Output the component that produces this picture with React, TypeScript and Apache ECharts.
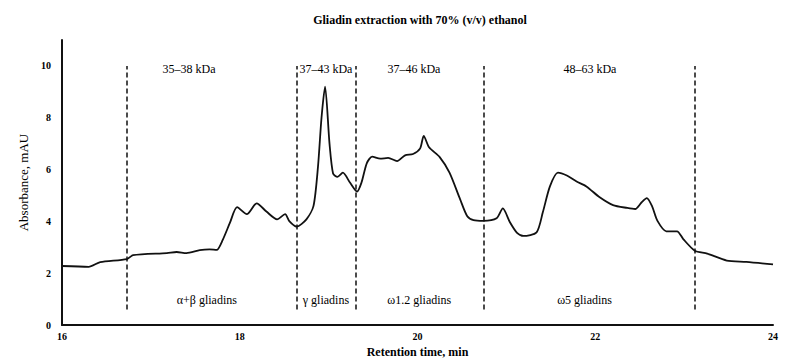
import React, { useEffect, useRef } from "react";
import * as echarts from "echarts";

const retentionTimes = [16, 16.3, 16.43, 16.73, 16.8, 17.18, 17.29, 17.4, 17.55, 17.66, 17.74, 17.81, 17.89, 17.97, 18.08, 18.19, 18.3, 18.42, 18.51, 18.56, 18.64, 18.75, 18.83, 18.88, 18.92, 18.96, 19.01, 19.05, 19.1, 19.16, 19.24, 19.32, 19.37, 19.43, 19.49, 19.58, 19.67, 19.77, 19.86, 19.95, 20.03, 20.07, 20.13, 20.25, 20.36, 20.48, 20.56, 20.63, 20.74, 20.89, 20.96, 21.04, 21.12, 21.19, 21.34, 21.41, 21.49, 21.58, 21.68, 21.79, 21.9, 22.05, 22.2, 22.36, 22.45, 22.52, 22.58, 22.64, 22.7, 22.8, 22.92, 22.99, 23.12, 23.26, 23.48, 23.7, 24];
const absorbance = [2.28, 2.25, 2.43, 2.55, 2.7, 2.78, 2.82, 2.78, 2.89, 2.92, 2.9, 3.3, 3.95, 4.55, 4.28, 4.7, 4.38, 4.08, 4.28, 4.0, 3.8, 4.08, 4.6, 6.1, 8.0, 9.2, 7.0, 5.85, 5.72, 5.88, 5.5, 5.15, 5.5, 6.25, 6.5, 6.42, 6.45, 6.33, 6.55, 6.6, 6.82, 7.3, 6.86, 6.48, 5.88, 4.85, 4.2, 4.05, 4.02, 4.12, 4.5, 3.97, 3.56, 3.44, 3.58, 4.35, 5.35, 5.88, 5.77, 5.54, 5.35, 4.93, 4.63, 4.52, 4.48, 4.73, 4.9, 4.58, 4.02, 3.62, 3.62, 3.32, 2.87, 2.76, 2.49, 2.44, 2.34];

const dividerTimes = [16.73, 18.64, 19.3, 20.75, 23.12];
const dividerBottom = 0.6;
const dividerTop = 10;

const kdaLabels = ["35–38 kDa", "37–43 kDa", "37–46 kDa", "48–63 kDa"];
const kdaTimes = [17.43, 18.97, 19.96, 21.94];
const kdaLevel = 9.88;

const fractionLabels = ["α+β gliadins", "γ gliadins", "ω1.2 gliadins", "ω5 gliadins"];
const fractionTimes = [17.63, 18.97, 20.02, 21.88];
const fractionLevel = 0.96;

const xTicks = [16, 18, 20, 22, 24];
const yTicks = [0, 2, 4, 6, 8, 10];

const FONT = "Liberation Serif";

export default function App() {
  const ref = useRef<HTMLDivElement>(null);
  useEffect(() => {
    if (!ref.current) return;
    const chart = echarts.init(ref.current, null, { renderer: "svg" });
    const lineData = retentionTimes.map((t, i) => [t, absorbance[i]]);
    const textPoints = [
      ...kdaLabels.map((s, i) => [kdaTimes[i], kdaLevel, s]),
      ...fractionLabels.map((s, i) => [fractionTimes[i], fractionLevel, s]),
    ];
    chart.setOption({
      animation: false,
      backgroundColor: "#ffffff",
      title: {
        text: "Gliadin extraction with 70% (v/v) ethanol",
        left: 415,
        textAlign: "center",
        top: 9,
        textStyle: { fontFamily: FONT, fontWeight: "bold", fontSize: 12, color: "#000" },
      },
      grid: { left: 62, right: 29, top: 40, bottom: 36 },
      xAxis: {
        type: "value",
        min: 16,
        max: 24,
        interval: 2,
        name: "Retention time, min",
        nameLocation: "middle",
        nameGap: 19,
        nameTextStyle: { fontFamily: FONT, fontWeight: "bold", fontSize: 12, color: "#000" },
        axisLine: { lineStyle: { color: "#111", width: 2 } },
        axisTick: { show: false },
        splitLine: { show: false },
        axisLabel: {
          fontFamily: FONT,
          fontWeight: "bold",
          fontSize: 10,
          color: "#000",
          margin: 6,
          formatter: (v: number) => (xTicks.includes(v) ? String(v) : ""),
        },
      },
      yAxis: {
        type: "value",
        min: 0,
        max: 11,
        interval: 2,
        name: "Absorbance, mAU",
        nameLocation: "middle",
        nameGap: 28,
        nameTextStyle: { fontFamily: FONT, fontSize: 13, color: "#000" },
        axisLine: { show: true, lineStyle: { color: "#111", width: 2 } },
        axisTick: { show: false },
        splitLine: { show: false },
        axisLabel: {
          fontFamily: FONT,
          fontWeight: "bold",
          fontSize: 10,
          color: "#000",
          margin: 11,
          formatter: (v: number) => (yTicks.includes(v) ? String(v) : ""),
        },
      },
      series: [
        {
          type: "line",
          data: lineData,
          smooth: 0.25,
          showSymbol: false,
          lineStyle: { color: "#111", width: 1.8 },
          markLine: {
            silent: true,
            symbol: ["none", "none"],
            label: { show: false },
            lineStyle: { color: "#111", width: 1.5, type: [5, 3] },
            data: dividerTimes.map((t) => [
              { coord: [t, dividerBottom] },
              { coord: [t, dividerTop] },
            ]),
          },
        },
        {
          type: "scatter",
          data: textPoints,
          symbolSize: 0,
          silent: true,
          itemStyle: { color: "#000", opacity: 1 },
          label: {
            show: true,
            position: [0, 0],
            align: "center",
            verticalAlign: "middle",
            formatter: (p: any) => p.value[2],
            fontFamily: FONT,
            fontSize: 12,
            color: "#000",
            opacity: 1,
          },
        },
      ],
    });
    return () => chart.dispose();
  }, []);
  return <div ref={ref} style={{ position: "fixed", left: 0, top: 0, width: 802, height: 363 }} />;
}
